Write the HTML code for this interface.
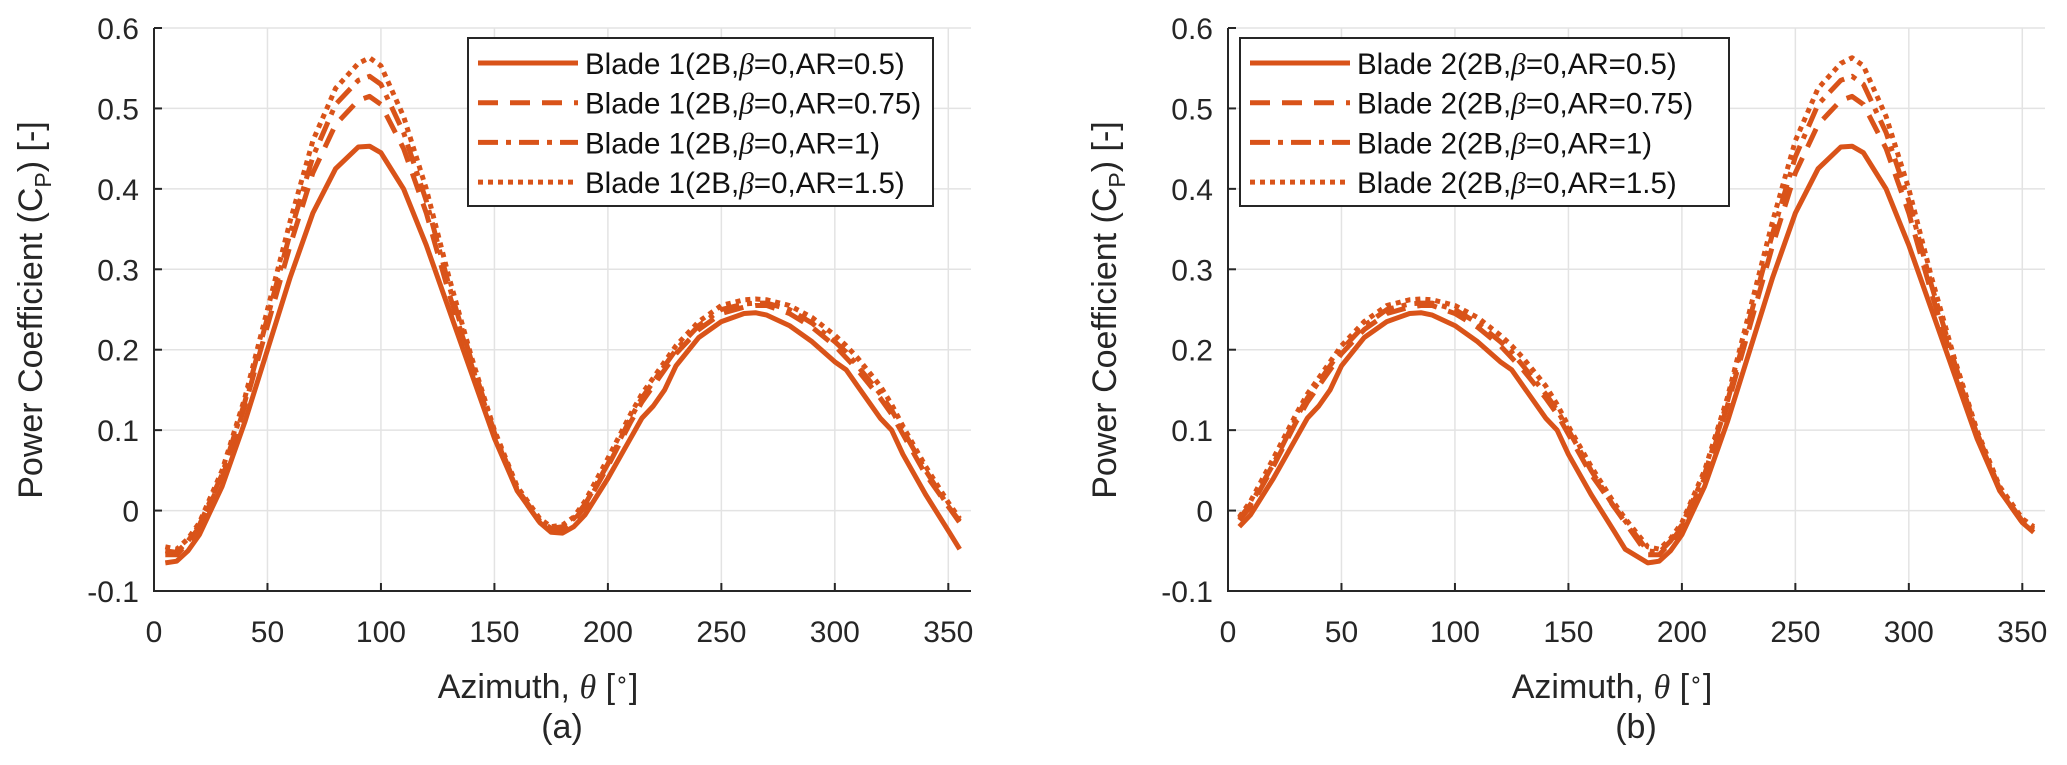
<!DOCTYPE html>
<html><head><meta charset="utf-8"><style>
html,body{margin:0;padding:0;background:#fff}
svg{display:block;font-family:"Liberation Sans",sans-serif}
</style></head><body>
<svg id="fig" width="2067" height="765" viewBox="0 0 2067 765" xmlns="http://www.w3.org/2000/svg"></svg>
<script>
const xTicks=[0,50,100,150,200,250,300,350];
const yTicks=[-0.1,0,0.1,0.2,0.3,0.4,0.5,0.6];
const yTickLabels=["-0.1","0","0.1","0.2","0.3","0.4","0.5","0.6"];
const seriesNames=["AR=0.5","AR=0.75","AR=1","AR=1.5"];
const leftAngles=[5,10,15,20,30,40,50,60,70,80,90,95,100,110,120,130,140,150,160,170,175,180,185,190,200,210,215,220,225,230,240,250,260,265,270,280,290,300,305,310,320,325,330,340,350,355];
const leftAR05=[-0.065,-0.063,-0.05,-0.03,0.03,0.11,0.2,0.29,0.37,0.425,0.452,0.453,0.445,0.40,0.33,0.25,0.17,0.09,0.025,-0.015,-0.027,-0.028,-0.02,-0.005,0.04,0.09,0.115,0.13,0.15,0.18,0.215,0.235,0.245,0.246,0.243,0.23,0.21,0.185,0.175,0.155,0.115,0.1,0.07,0.02,-0.025,-0.048];
const leftAR075=[-0.055,-0.055,-0.04,-0.02,0.04,0.13,0.23,0.33,0.42,0.48,0.51,0.515,0.505,0.45,0.37,0.27,0.18,0.095,0.025,-0.015,-0.024,-0.022,-0.012,0.005,0.055,0.11,0.135,0.155,0.175,0.195,0.225,0.245,0.253,0.255,0.255,0.245,0.228,0.205,0.19,0.175,0.14,0.12,0.095,0.045,0.005,-0.015];
const leftAR1=[-0.05,-0.052,-0.038,-0.018,0.045,0.135,0.24,0.345,0.44,0.505,0.535,0.54,0.53,0.47,0.385,0.28,0.185,0.097,0.027,-0.013,-0.022,-0.02,-0.01,0.008,0.058,0.115,0.14,0.16,0.18,0.2,0.23,0.25,0.257,0.258,0.258,0.25,0.233,0.21,0.197,0.18,0.145,0.125,0.1,0.05,0.005,-0.013];
const leftAR15=[-0.045,-0.048,-0.035,-0.015,0.05,0.14,0.25,0.36,0.46,0.525,0.556,0.563,0.553,0.49,0.40,0.29,0.19,0.1,0.03,-0.01,-0.02,-0.018,-0.008,0.012,0.065,0.12,0.145,0.165,0.185,0.205,0.235,0.255,0.262,0.263,0.262,0.255,0.24,0.218,0.205,0.19,0.155,0.132,0.105,0.055,0.01,-0.01];
const rightAngles=[5,10,20,30,35,40,45,50,60,70,80,85,90,100,110,120,125,130,140,145,150,160,170,175,185,190,195,200,210,220,230,240,250,260,270,275,280,290,300,310,320,330,340,350,355];
const rightAR05=[-0.02,-0.005,0.04,0.09,0.115,0.13,0.15,0.18,0.215,0.235,0.245,0.246,0.243,0.23,0.21,0.185,0.175,0.155,0.115,0.1,0.07,0.02,-0.025,-0.048,-0.065,-0.063,-0.05,-0.03,0.03,0.11,0.2,0.29,0.37,0.425,0.452,0.453,0.445,0.40,0.33,0.25,0.17,0.09,0.025,-0.015,-0.027];
const rightAR075=[-0.012,0.005,0.055,0.11,0.135,0.155,0.175,0.195,0.225,0.245,0.253,0.255,0.255,0.245,0.228,0.205,0.19,0.175,0.14,0.12,0.095,0.045,0.005,-0.015,-0.055,-0.055,-0.04,-0.02,0.04,0.13,0.23,0.33,0.42,0.48,0.51,0.515,0.505,0.45,0.37,0.27,0.18,0.095,0.025,-0.015,-0.024];
const rightAR1=[-0.01,0.008,0.058,0.115,0.14,0.16,0.18,0.2,0.23,0.25,0.257,0.258,0.258,0.25,0.233,0.21,0.197,0.18,0.145,0.125,0.1,0.05,0.005,-0.013,-0.05,-0.052,-0.038,-0.018,0.045,0.135,0.24,0.345,0.44,0.505,0.535,0.54,0.53,0.47,0.385,0.28,0.185,0.097,0.027,-0.013,-0.022];
const rightAR15=[-0.008,0.012,0.065,0.12,0.145,0.165,0.185,0.205,0.235,0.255,0.262,0.263,0.262,0.255,0.24,0.218,0.205,0.19,0.155,0.132,0.105,0.055,0.01,-0.01,-0.045,-0.048,-0.035,-0.015,0.05,0.14,0.25,0.36,0.46,0.525,0.556,0.563,0.553,0.49,0.40,0.29,0.19,0.1,0.03,-0.01,-0.02];

const NS="http://www.w3.org/2000/svg";
const svg=document.getElementById('fig');
const COLOR="#D95319";
const dashes=["none","20 12","20 8 5 8","5 5"];
function mk(tag,attrs,parent){const e=document.createElementNS(NS,tag);for(const k in attrs)e.setAttribute(k,attrs[k]);(parent||svg).appendChild(e);return e;}

function panel(cfg){
  const g=mk('g',{});
  
  
  const X0=cfg.x0,X1=cfg.x1,YT=28,YB=591;
  const xs=v=>X0+(v-0)/(360-0)*(X1-X0);
  const ys=v=>YB-(v-(-0.1))/(0.7)*(YB-YT);
  xTicks.forEach(t=>{if(t>0){const l=mk('line',{x1:xs(t),x2:xs(t),y1:YT,y2:YB,stroke:'#e3e3e3','stroke-width':1.5},g);
    }});
  yTicks.forEach(t=>{if(t>-0.1){const l=mk('line',{x1:X0,x2:X1,y1:ys(t),y2:ys(t),stroke:'#e3e3e3','stroke-width':1.5},g);
    }});
  cfg.series.forEach((vals,i)=>{
    const d=vals.map((v,j)=>(j?'L':'M')+xs(cfg.angles[j]).toFixed(1)+','+ys(v).toFixed(1)).join(' ');
    const p=mk('path',{d:d,fill:'none',stroke:COLOR,'stroke-width':5,'stroke-dasharray':dashes[i],'stroke-linejoin':'round'},g);
    
    
  });
  const ax=mk('path',{d:`M${X0},${YT} L${X0},${YB} L${X1},${YB}`,fill:'none',stroke:'#262626','stroke-width':2},g);
  
  xTicks.forEach(t=>{
    mk('line',{x1:xs(t),x2:xs(t),y1:YB,y2:YB-8,stroke:'#262626','stroke-width':2},g);
    const tx=mk('text',{x:xs(t),y:642,'font-size':30,'text-anchor':'middle',fill:'#262626'},g);
    tx.textContent=t;
    
  });
  yTicks.forEach((t,i)=>{
    mk('line',{x1:X0,x2:X0+8,y1:ys(t),y2:ys(t),stroke:'#262626','stroke-width':2},g);
    const tx=mk('text',{x:X0-15,y:ys(t)+11,'font-size':30,'text-anchor':'end',fill:'#262626'},g);
    tx.textContent=yTickLabels[i];
    
  });
  const xt=mk('text',{x:cfg.xTitleX,y:698,'font-size':34,'text-anchor':'middle',fill:'#262626'},g);
  xt.innerHTML='Azimuth, <tspan font-family="Liberation Serif" font-style="italic">θ</tspan> [<tspan font-size="22" dy="-11">∘</tspan><tspan dy="11">]</tspan>';
  
  const yt=mk('text',{x:0,y:0,'font-size':34,'text-anchor':'middle',fill:'#262626',transform:`translate(${cfg.yTitleX},310) rotate(-90)`},g);
  yt.innerHTML='Power Coefficient (C<tspan font-size="23" dy="9">P</tspan><tspan dy="-9">) [-]</tspan>';
  
  const cap=mk('text',{x:cfg.capX,y:738,'font-size':34,'text-anchor':'middle',fill:'#262626'},g);
  cap.textContent=cfg.caption;
  
  const lg=mk('g',{},g);
  
  mk('rect',{x:cfg.lx,y:38,width:cfg.lw,height:168,fill:'#fff',stroke:'#262626','stroke-width':2},lg);
  seriesNames.forEach((n,i)=>{
    const cy=63+i*39.7;
    const le=mk('g',{},lg);
    
    mk('line',{x1:cfg.lx+10,x2:cfg.lx+110,y1:cy,y2:cy,stroke:COLOR,'stroke-width':5,'stroke-dasharray':dashes[i]},le);
    const t=mk('text',{x:cfg.lx+117,y:cy+11,'font-size':29.5,fill:'#111'},le);
    t.innerHTML=cfg.blade+'(2B,<tspan font-family="Liberation Serif" font-style="italic">β</tspan>=0,'+n+')';
  });
}
panel({name:'panel-a',x0:154,x1:971,angles:leftAngles,series:[leftAR05,leftAR075,leftAR1,leftAR15],xTitleX:538,yTitleX:42,capX:562,caption:'(a)',lx:468,lw:465,blade:'Blade 1'});
panel({name:'panel-b',x0:1228,x1:2045,angles:rightAngles,series:[rightAR05,rightAR075,rightAR1,rightAR15],xTitleX:1612,yTitleX:1116,capX:1636,caption:'(b)',lx:1240,lw:489,blade:'Blade 2'});
</script>
</body></html>
